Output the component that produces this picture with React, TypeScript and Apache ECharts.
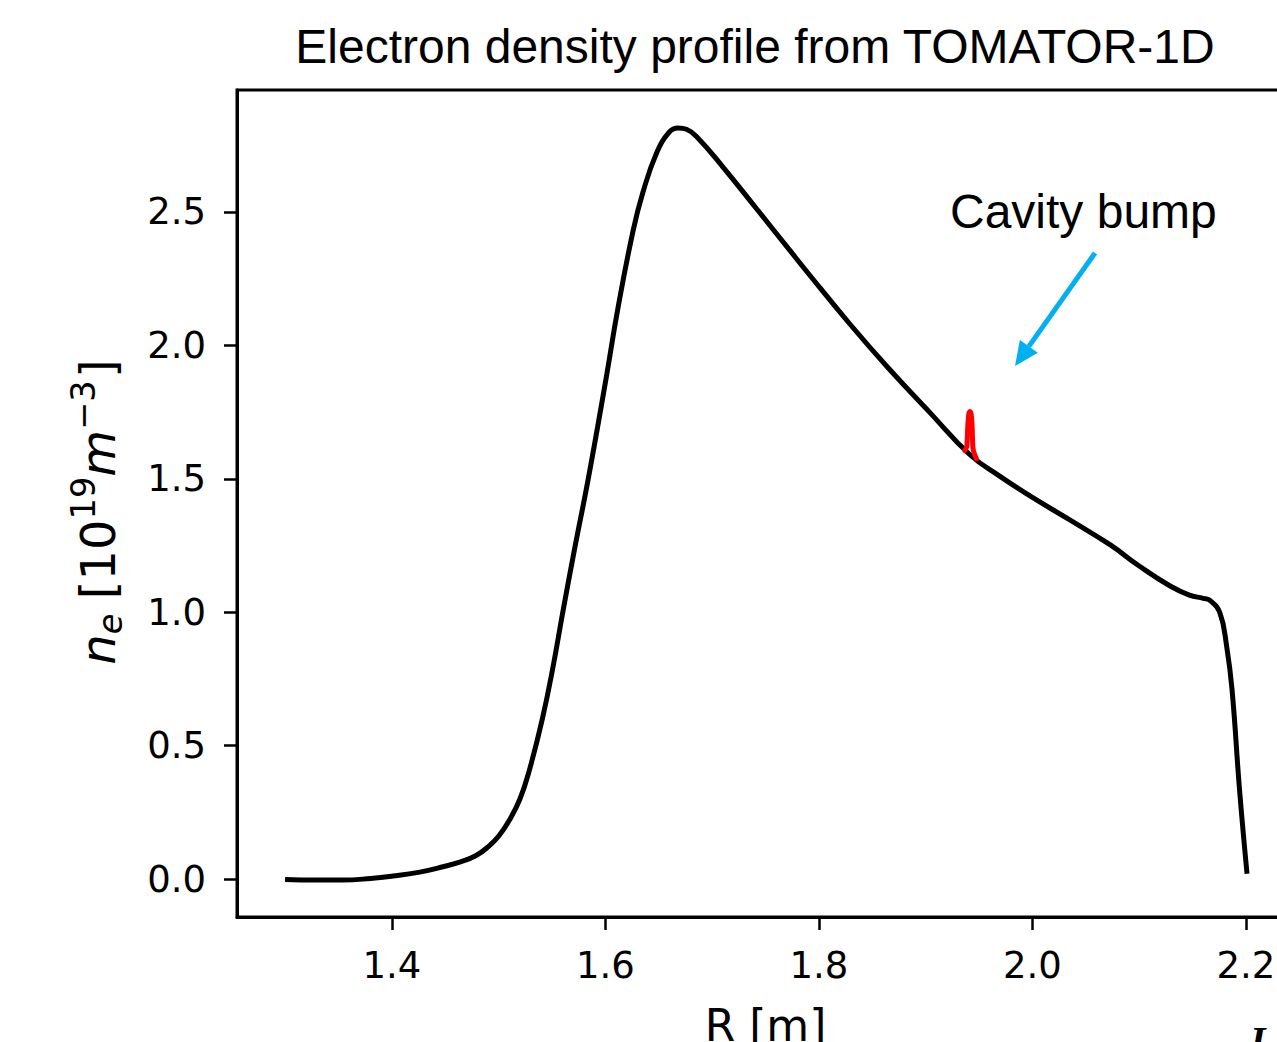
import React, { useEffect, useRef } from "react";
import * as echarts from "echarts";

const titleText = "Electron density profile from TOMATOR-1D";
const annotationText = "Cavity bump";
const xLabel = "R [m]";

const profileR = [
  1.3, 1.33, 1.354, 1.38, 1.401, 1.425, 1.448, 1.465, 1.479, 1.49, 1.5, 1.51,
  1.52, 1.529, 1.541, 1.551, 1.56, 1.571, 1.584, 1.6, 1.612, 1.626, 1.635,
  1.648, 1.66, 1.668, 1.676, 1.686, 1.71, 1.742, 1.773, 1.789, 1.829, 1.865,
  1.904, 1.9415, 1.97, 2.0, 2.035, 2.073, 2.1, 2.129, 2.147, 2.16, 2.166,
  2.1756, 2.182, 2.187, 2.194, 2.201,
];
const profileNe = [
  -0.002, -0.004, -0.004, 0.002, 0.011, 0.025, 0.046, 0.065, 0.088, 0.12, 0.16,
  0.22, 0.3, 0.41, 0.6, 0.795, 0.997, 1.233, 1.5, 1.86, 2.144, 2.43, 2.571,
  2.721, 2.8, 2.815, 2.81, 2.78, 2.669, 2.51, 2.355, 2.275, 2.08, 1.915, 1.748,
  1.59, 1.508, 1.43, 1.346, 1.252, 1.173, 1.098, 1.064, 1.052, 1.045, 0.997,
  0.87, 0.708, 0.334, 0.02,
];

const bumpR = [1.9365, 1.9385, 1.9395, 1.9405, 1.9415, 1.9425, 1.9435, 1.9445, 1.9475];
const bumpNe = [1.606, 1.62, 1.7, 1.745, 1.752, 1.745, 1.7, 1.61, 1.575];

const xTicks = [1.4, 1.6, 1.8, 2.0, 2.2];
const yTicks = [0, 0.5, 1.0, 1.5, 2.0, 2.5];

export default function App() {
  const ref = useRef<HTMLDivElement>(null);
  useEffect(() => {
    document.body.style.margin = "0";
    const chart = echarts.init(ref.current!, null, { renderer: "svg" });

    // y-axis mathtext label pieces
    const F = 48;
    const canvas = document.createElement("canvas");
    const ctx = canvas.getContext("2d")!;
    const fontStr = (s: number, it: boolean) =>
      `${it ? "italic " : ""}${s}px "DejaVu Sans"`;
    const measure = (t: string, s: number, it: boolean) => {
      ctx.font = fontStr(s, it);
      return ctx.measureText(t).width;
    };
    const pieces = [
      { t: "n", s: F, it: true, dy: 0, gap: 0 },
      { t: "e", s: 0.7 * F, it: true, dy: 0.14 * F, gap: 0 },
      { t: "[10", s: F, it: false, dy: 0, gap: 0.3 * F },
      { t: "19", s: 0.7 * F, it: false, dy: -0.42 * F, gap: 0 },
      { t: "m", s: F, it: true, dy: 0, gap: 0 },
      { t: "\u22123", s: 0.7 * F, it: false, dy: -0.42 * F, gap: 0 },
      { t: "]", s: F, it: false, dy: 0, gap: 0.05 * F },
    ];
    let total = 0;
    const placed: any[] = [];
    pieces.forEach((p) => {
      total += p.gap;
      placed.push({ ...p, x: total });
      total += measure(p.t, p.s, p.it);
    });
    const yLabelChildren = placed.map((p) => ({
      type: "text",
      x: p.x - total / 2,
      y: p.dy - 0.346 * p.s,
      style: {
        text: p.t,
        font: fontStr(p.s, p.it),
        fill: "#000",
        align: "left",
        verticalAlign: "middle",
      },
    }));

    const tipX = 1015, tipY = 366, tailX = 1095, tailY = 253;
    const dx = tipX - tailX, dy = tipY - tailY;
    const len = Math.hypot(dx, dy);
    const ux = dx / len, uy = dy / len;
    const hl = 24, hw = 11;
    const bx = tipX - hl * ux, by = tipY - hl * uy;
    const px = -uy, py = ux;

    chart.setOption({
      animation: false,
      grid: {
        left: 237,
        top: 90,
        width: 1057,
        height: 827,
        containLabel: false,
        outerBoundsMode: "none",
        show: true,
        borderColor: "#000",
        borderWidth: 3,
        backgroundColor: "transparent",
      },
      xAxis: {
        type: "value",
        min: 1.255,
        max: 2.245,
        splitLine: { show: false },
        axisLine: { show: true, onZero: false, lineStyle: { color: "#000", width: 3 } },
        axisTick: {
          show: true,
          length: 13,
          customValues: xTicks,
          lineStyle: { color: "#000", width: 2.5 },
        },
        axisLabel: {
          customValues: xTicks,
          formatter: (v: number) => v.toFixed(1),
          fontSize: 37,
          fontFamily: "DejaVu Sans",
          color: "#000",
          margin: 30,
        },
        name: xLabel,
        nameLocation: "middle",
        nameGap: 108,
        nameTextStyle: {
          fontSize: 44,
          fontFamily: "DejaVu Sans",
          color: "#000",
          verticalAlign: "middle",
        },
      },
      yAxis: {
        type: "value",
        min: -0.1424,
        max: 2.957,
        splitLine: { show: false },
        axisLine: { show: true, onZero: false, lineStyle: { color: "#000", width: 3 } },
        axisTick: {
          show: true,
          length: 13,
          customValues: yTicks,
          lineStyle: { color: "#000", width: 2.5 },
        },
        axisLabel: {
          customValues: yTicks,
          formatter: (v: number) => v.toFixed(1),
          fontSize: 37,
          fontFamily: "DejaVu Sans",
          color: "#000",
          margin: 31,
        },
      },
      series: [
        {
          type: "line",
          data: profileR.map((r, i) => [r, profileNe[i]]),
          showSymbol: false,
          smooth: 0.45,
          lineStyle: { color: "#000", width: 5 },
          z: 2,
        },
        {
          type: "line",
          data: bumpR.map((r, i) => [r, bumpNe[i]]),
          showSymbol: false,
          smooth: 0.3,
          lineStyle: { color: "#ff0000", width: 5, cap: "round" },
          z: 3,
        },
      ],
      graphic: [
        {
          type: "text",
          x: 755,
          y: 46,
          style: {
            text: titleText,
            font: '48px "Liberation Sans"',
            fill: "#000",
            align: "center",
            verticalAlign: "middle",
          },
        },
        {
          type: "text",
          x: 950,
          y: 211,
          style: {
            text: annotationText,
            font: '48px "Liberation Sans"',
            fill: "#000",
            align: "left",
            verticalAlign: "middle",
          },
        },
        {
          type: "line",
          shape: { x1: tailX, y1: tailY, x2: bx, y2: by },
          style: { stroke: "#00B0F0", lineWidth: 5 },
        },
        {
          type: "polygon",
          shape: {
            points: [
              [tipX, tipY],
              [bx + hw * px, by + hw * py],
              [bx - hw * px, by - hw * py],
            ],
          },
          style: { fill: "#00B0F0" },
        },
        {
          type: "group",
          x: 115,
          y: 512,
          rotation: Math.PI / 2,
          children: yLabelChildren,
        },
        {
          type: "text",
          x: 1250,
          y: 1040,
          style: {
            text: "I",
            font: 'italic bold 40px "Liberation Serif"',
            fill: "#000",
            align: "left",
            verticalAlign: "middle",
          },
        },
      ],
    });
    return () => chart.dispose();
  }, []);
  return <div ref={ref} style={{ width: 1277, height: 1042 }} />;
}
